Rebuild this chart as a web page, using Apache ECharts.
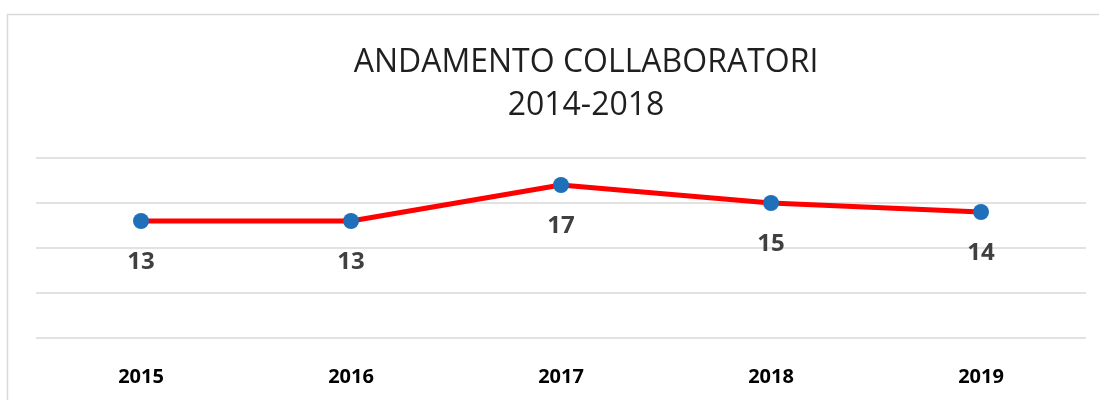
<!DOCTYPE html>
<html>
<head>
<meta charset="utf-8">
<script src="https://cdn.jsdelivr.net/npm/echarts@6/dist/echarts.min.js"></script>
<style>
  html, body { margin: 0; padding: 0; background: #fff; }
  #chart { width: 1099px; height: 400px; }
</style>
</head>
<body>
<div id="chart"></div>
<script>
// dati
const anni = ['2015', '2016', '2017', '2018', '2019']
const collaboratori = [13, 13, 17, 15, 14]
const titolo = 'ANDAMENTO COLLABORATORI\n2014-2018'

const FONT = "'Open Sans', 'Noto Sans', sans-serif"

const chart = echarts.init(document.getElementById('chart'))

chart.setOption({
    animation: false,
    textStyle: { fontFamily: FONT },
    title: {
        text: titolo,
        left: 581,
        top: 36,
        textAlign: 'center',
        textStyle: { fontSize: 32, fontWeight: 'normal', color: '#1f1f1f', lineHeight: 43, fontFamily: FONT }
    },
    graphic: [{
        type: 'rect',
        silent: true,
        shape: { x: 7.5, y: 14.5, width: 1200, height: 500 },
        style: { fill: 'none', stroke: '#d9d9d9', lineWidth: 1.5 }
    }],
    grid: { left: 36, right: 13, top: 158, bottom: 62, containLabel: false },
    xAxis: {
        type: 'category',
        data: anni,
        boundaryGap: true,
        axisLine: { show: false },
        axisTick: { show: false },
        axisLabel: { margin: 29, fontSize: 20, fontWeight: 'bold', color: '#000', fontFamily: FONT }
    },
    yAxis: {
        type: 'value',
        min: 0,
        max: 20,
        interval: 5,
        axisLabel: { show: false },
        axisLine: { show: false },
        axisTick: { show: false },
        splitLine: { lineStyle: { color: '#d9d9d9', width: 1.5 } }
    },
    series: [{
        type: 'line',
        data: collaboratori,
        symbol: 'circle',
        symbolSize: 16,
        lineStyle: { color: '#ff0000', width: 5 },
        itemStyle: { color: '#1f6fb9' },
        label: {
            show: true,
            position: 'bottom',
            distance: 21,
            fontSize: 24,
            fontWeight: 'bold',
            color: '#404040',
            fontFamily: FONT
        }
    }]
})
</script>
</body>
</html>
